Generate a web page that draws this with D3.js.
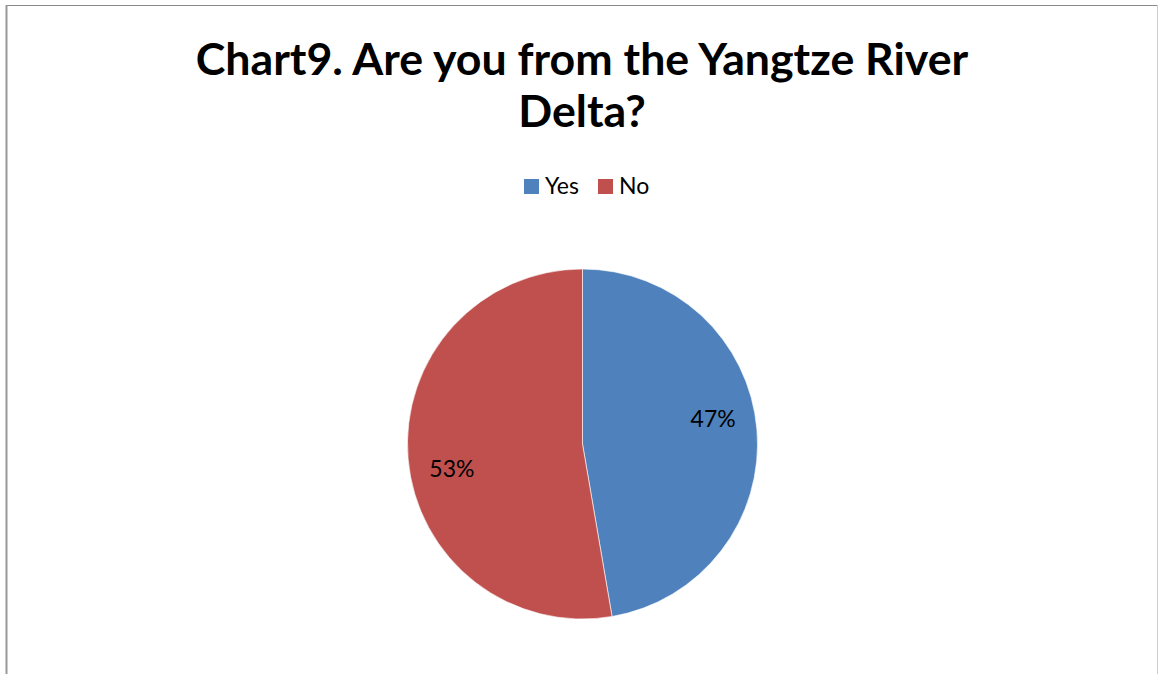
<!DOCTYPE html>
<html>
<head>
<meta charset="utf-8">
<script src="https://cdn.jsdelivr.net/npm/d3@7"></script>
<style>
  body { margin: 0; background: #fff; }
  svg { display: block; font-family: Lato, "Open Sans", sans-serif; }
</style>
</head>
<body>
<script>
// data
const categories = ["Yes", "No"];
const shares = [47.3, 52.7];
const colors = ["#4F81BD", "#C0504D"];
const titleLines = ["Chart9. Are you from the Yangtze River", "Delta?"];

const W = 1158, H = 674;
const svg = d3.select("body").append("svg")
    .attr("width", W)
    .attr("height", H);

// frame
svg.append("line").attr("x1", 6).attr("x2", 1158).attr("y1", 5.5).attr("y2", 5.5)
    .attr("stroke", "#888").attr("stroke-width", 1);
svg.append("line").attr("x1", 6.5).attr("x2", 6.5).attr("y1", 5).attr("y2", H)
    .attr("stroke", "#999").attr("stroke-width", 2);
svg.append("line").attr("x1", 1157.5).attr("x2", 1157.5).attr("y1", 5).attr("y2", H)
    .attr("stroke", "#ccc").attr("stroke-width", 1);

// title
svg.append("text")
    .attr("text-anchor", "middle")
    .style("font-weight", "bold")
    .style("font-size", "44.7px")
    .attr("fill", "#000")
    .selectAll("tspan")
    .data(titleLines)
    .enter()
    .append("tspan")
    .attr("x", 582)
    .attr("y", (d, i) => 75 + i * 52)
    .text(d => d);

// legend
const legend = svg.append("g");
const lx = [524, 598];
categories.forEach((c, i) => {
  legend.append("rect")
     .attr("x", lx[i]).attr("y", 179)
     .attr("width", 15).attr("height", 15)
     .attr("fill", colors[i]);
  legend.append("text")
     .attr("x", lx[i] + 21).attr("y", 194)
     .style("font-size", "23px")
     .attr("fill", "#000")
     .text(c);
});

// pie
const cx = 582.5, cy = 444, r = 175;
const pie = d3.pie().sort(null).value(d => d);
const arc = d3.arc().innerRadius(0).outerRadius(r);
const arcs = pie(shares);
const color = d3.scaleOrdinal().domain(categories).range(colors);

const g = svg.append("g").attr("transform", "translate(" + cx + "," + cy + ")");

g.selectAll("path")
    .data(arcs)
    .enter()
    .append("path")
    .attr("d", arc)
    .attr("fill", (d, i) => color(categories[i]))
    .attr("stroke", "#fff")
    .attr("stroke-width", 0.6);

const total = d3.sum(shares);
g.selectAll("text.lbl")
    .data(arcs)
    .enter()
    .append("text")
    .attr("class", "lbl")
    .attr("text-anchor", "middle")
    .attr("dy", "0.35em")
    .style("font-size", "23px")
    .attr("fill", "#000")
    .attr("x", d => 133 * Math.sin((d.startAngle + d.endAngle) / 2 - 0.105))
    .attr("y", d => -133 * Math.cos((d.startAngle + d.endAngle) / 2 - 0.105))
    .text(d => Math.round(d.value / total * 100) + "%");
</script>
</body>
</html>
